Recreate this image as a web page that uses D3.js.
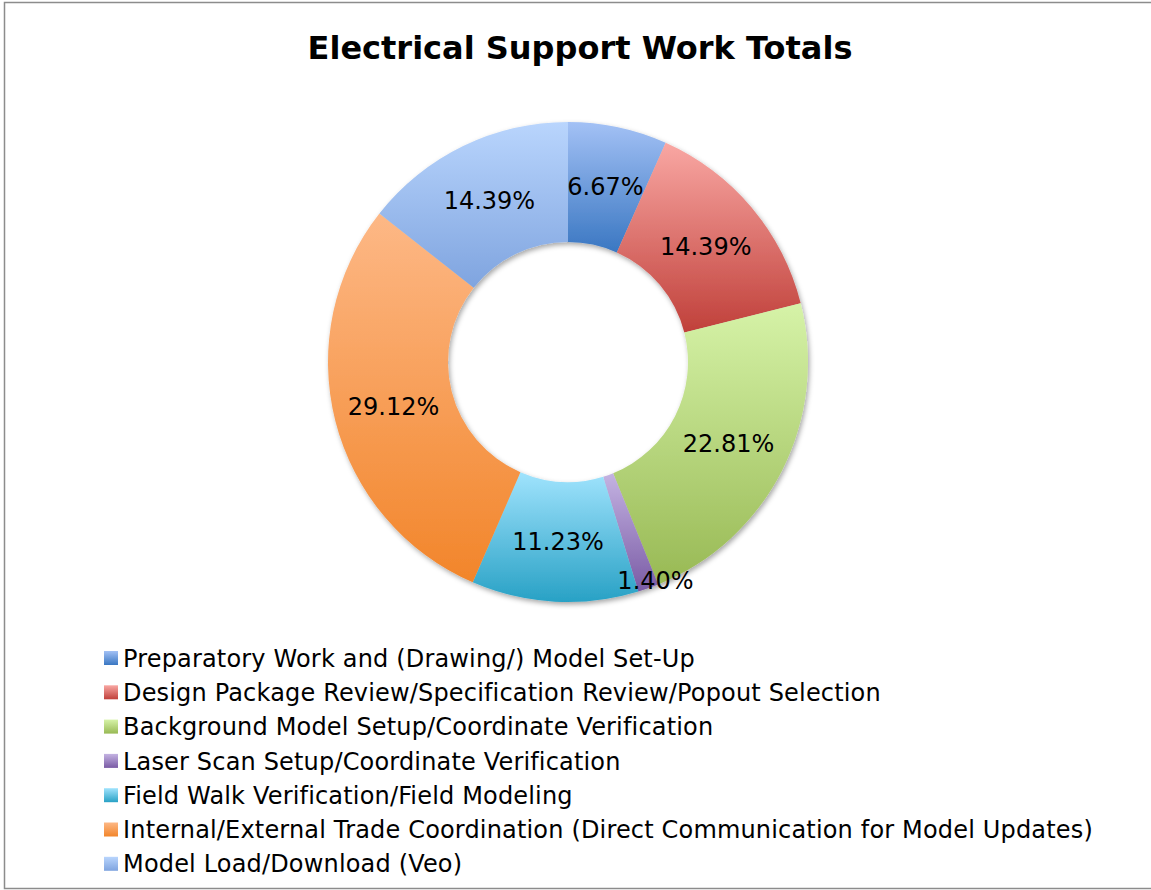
<!DOCTYPE html>
<html>
<head>
<meta charset="utf-8">
<script src="https://cdn.jsdelivr.net/npm/d3@7"></script>
<style>
  html, body { margin: 0; padding: 0; background: #fff; }
  svg { display: block; font-family: Verdana, "DejaVu Sans", sans-serif; }
</style>
</head>
<body>
<svg id="chart" width="1151" height="890"></svg>
<script>
// Work categories and their share of total effort (%)
const categories = [
  "Preparatory Work and (Drawing/) Model Set-Up",
  "Design Package Review/Specification Review/Popout Selection",
  "Background Model Setup/Coordinate Verification",
  "Laser Scan Setup/Coordinate Verification",
  "Field Walk Verification/Field Modeling",
  "Internal/External Trade Coordination (Direct Communication for Model Updates)",
  "Model Load/Download (Veo)"
];
const values = [6.67, 14.39, 22.81, 1.40, 11.23, 29.12, 14.39];
const labels = ["6.67%", "14.39%", "22.81%", "1.40%", "11.23%", "29.12%", "14.39%"];
// light (top) and dark (bottom) stops for each slice's gradient
const lightColors = ["#a3c1f5", "#f9a7a3", "#d6f3a8", "#c4b3e2", "#a0e3fd", "#fdb886", "#b9d5fd"];
const darkColors  = ["#3a77c2", "#c0403a", "#98b954", "#7a5ba5", "#28a1c5", "#f2852a", "#7fa4df"];

const svg = d3.select("#chart");
const W = 1151, H = 890;

// chart frame
svg.append("rect")
  .attr("x", 4.5).attr("y", 2.5)
  .attr("width", W + 10).attr("height", 886)
  .attr("fill", "#fff")
  .attr("stroke", "#8c8c8c").attr("stroke-width", 1.5);

const defs = svg.append("defs");
values.forEach((v, i) => {
  const g = defs.append("linearGradient")
    .attr("id", "grad" + i)
    .attr("x1", 0).attr("y1", 0).attr("x2", 0).attr("y2", 1);
  g.append("stop").attr("offset", "0%").attr("stop-color", lightColors[i]);
  g.append("stop").attr("offset", "100%").attr("stop-color", darkColors[i]);
});
const shadow = defs.append("filter").attr("id", "shadow")
  .attr("x", "-10%").attr("y", "-10%").attr("width", "120%").attr("height", "120%");
shadow.append("feDropShadow")
  .attr("dx", 1.5).attr("dy", 2.5).attr("stdDeviation", 2.5)
  .attr("flood-color", "#000").attr("flood-opacity", 0.35);

// title
svg.append("text")
  .attr("x", 580).attr("y", 59)
  .attr("text-anchor", "middle")
  .attr("font-weight", "bold")
  .attr("font-size", 32)
  .attr("fill", "#000")
  .text("Electrical Support Work Totals");

// donut
const cx = 568, cy = 362, rOuter = 240, rInner = 120;
const pie = d3.pie().sort(null).value(d => d);
const arcs = pie(values);
const arc = d3.arc().innerRadius(rInner).outerRadius(rOuter);
const labelArc = d3.arc().innerRadius(180).outerRadius(180);

const g = svg.append("g").attr("transform", `translate(${cx},${cy})`);
g.append("g").attr("filter", "url(#shadow)")
  .selectAll("path")
  .data(arcs)
  .join("path")
  .attr("d", arc)
  .attr("fill", (d, i) => `url(#grad${i})`);

// value labels at the ring centroid; very thin slices get pushed outward
g.selectAll("text.val")
  .data(arcs)
  .join("text")
  .attr("class", "val")
  .attr("transform", d => {
    let [x, y] = labelArc.centroid(d);
    if (d.value < 2) {
      const a = (d.startAngle + d.endAngle) / 2 - 0.04;
      x = Math.sin(a) * 235; y = -Math.cos(a) * 235;
    }
    return `translate(${x},${y})`;
  })
  .attr("text-anchor", "middle")
  .attr("dy", "0.36em")
  .attr("font-size", 24)
  .attr("fill", "#000")
  .text((d, i) => labels[i]);

// legend
const legend = svg.append("g").attr("transform", "translate(104,658)");
const rowH = 34.3;
const item = legend.selectAll("g")
  .data(categories)
  .join("g")
  .attr("transform", (d, i) => `translate(0,${i * rowH})`);
item.append("rect")
  .attr("x", 0).attr("y", -7)
  .attr("width", 14).attr("height", 14)
  .attr("fill", (d, i) => `url(#grad${i})`);
item.append("text")
  .attr("x", 19).attr("y", 0)
  .attr("dy", "0.36em")
  .attr("font-size", 24)
  .attr("letter-spacing", 0.17)
  .attr("fill", "#000")
  .text(d => d);
</script>
</body>
</html>
